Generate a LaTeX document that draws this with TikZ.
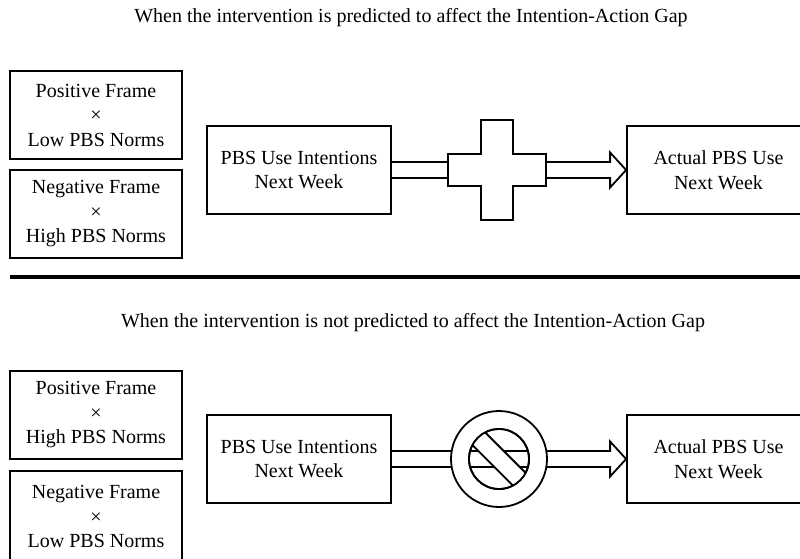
\documentclass[tikz,border=0pt]{standalone}
\usepackage{fontspec}
\setmainfont{Liberation Serif}
\usetikzlibrary{positioning}
\tikzset{
  box/.style={draw=black,line width=1.8pt,align=center,inner sep=2pt,font=\fontsize{20}{24.5}\selectfont},
  cond/.style={box,minimum width=172pt,minimum height=88pt},
  var/.style={box,minimum width=184pt,minimum height=88pt},
  outcome/.style={var,minimum width=183pt},
  title/.style={font=\fontsize{20}{24}\selectfont},
  pipe/.style={draw=black,line width=1.8pt,line join=miter},
  rulebar/.style={draw=black,line width=4pt},
}
\begin{document}
\begin{tikzpicture}[x=1pt,y=-1pt,node distance=9pt]
    \useasboundingbox (0,0) rectangle (800,559);
    % top panel
    \node[title] (head1) at (411,18) {When the intervention is predicted to affect the Intention-Action Gap};
    \node[cond] (pos1) at (96,115) {Positive Frame\\×\\Low PBS Norms};
    \node[cond,below=of pos1] (neg1) {Negative Frame\\×\\High PBS Norms};
    \node[var] (intent1) at (299,170) {PBS Use Intentions\\Next Week};
    \node[outcome] (actual1) at (718.5,170) {Actual PBS Use\\Next Week};
    \node[minimum width=98pt,minimum height=32pt,inner sep=0pt,outer sep=0pt] (plus1) at (497,170) {};
    \draw[pipe] (plus1.center) +(-49,-16) -- +(-16,-16) -- +(-16,-50) -- +(16,-50) -- +(16,-16) -- +(49,-16)
      -- +(49,16) -- +(16,16) -- +(16,50) -- +(-16,50) -- +(-16,16) -- +(-49,16) -- cycle;
    \draw[pipe] ([yshift=8pt]intent1.east) -- ([yshift=8pt]plus1.west) ([yshift=-8pt]intent1.east) -- ([yshift=-8pt]plus1.west);
    \draw[pipe] ([yshift=8pt]plus1.east) -- ([xshift=-16pt,yshift=8pt]actual1.west) -- ([xshift=-16pt,yshift=17.5pt]actual1.west)
      -- (actual1.west) -- ([xshift=-16pt,yshift=-17.5pt]actual1.west) -- ([xshift=-16pt,yshift=-8pt]actual1.west) -- ([yshift=-8pt]plus1.east);
    \draw[rulebar] (10,277) -- (806,277);
    % bottom panel
    \node[title] (head2) at (413,323) {When the intervention is not predicted to affect the Intention-Action Gap};
    \node[cond] (pos2) at (96,415) {Positive Frame\\×\\High PBS Norms};
    \node[cond,below=10pt of pos2,minimum height=92pt,anchor=north] (neg2) {Negative Frame\\×\\Low PBS Norms};
    \node[var] (intent2) at (299,459) {PBS Use Intentions\\Next Week};
    \node[outcome] (actual2) at (718.5,459) {Actual PBS Use\\Next Week};
    \coordinate (stop2) at (499,459);
    \draw[pipe] ([yshift=8pt]intent2.east) -- ([xshift=-16pt,yshift=8pt]actual2.west) -- ([xshift=-16pt,yshift=17.5pt]actual2.west)
      -- (actual2.west) -- ([xshift=-16pt,yshift=-17.5pt]actual2.west) -- ([xshift=-16pt,yshift=-8pt]actual2.west) -- ([yshift=-8pt]intent2.east);
    \path[pipe,fill=white,even odd rule] (stop2) circle[radius=48pt] (stop2) circle[radius=30pt];
    \begin{scope}
      \clip (stop2) circle[radius=30pt];
      \draw[pipe,fill=white,rotate around={-45:(stop2)}] ([xshift=-40pt,yshift=-9pt]stop2) rectangle ([xshift=40pt,yshift=9pt]stop2);
    \end{scope}
    \draw[pipe] (stop2) circle[radius=30pt];
\end{tikzpicture}
\end{document}
